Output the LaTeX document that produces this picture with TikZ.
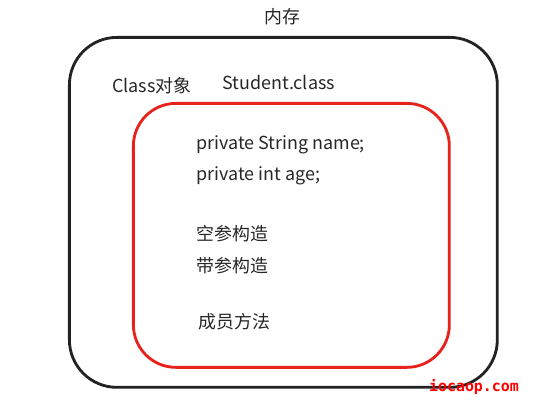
\documentclass[tikz,border=0pt]{standalone}
\usepackage{fontspec}
\setmainfont{Noto Sans CJK SC}
\newfontfamily\markfont{DejaVu Sans Mono}
\definecolor{memline}{HTML}{222222}
\definecolor{clsred}{HTML}{E8211A}

\begin{document}
\begin{tikzpicture}[x=0.02cm, y=-0.02cm, every node/.style={font=\fontsize{10.2}{12}\selectfont, inner sep=0pt, text=black!85}]
                \useasboundingbox (0,0) rectangle (549,402);

                % Memory box
                \node[draw=memline, line width=1.6pt, rounded corners=0.95cm, minimum width=8.56cm, minimum height=7cm, anchor=north west] (mem) at (68,36) {};
                \node (memlabel) at (282,17) {内存};

                % Class object
                \node[anchor=west] (clsobj) at (112,86) {Class对象};
                \node[anchor=west] (clsname) at (222,82) {Student.class};
                \node[draw=clsred, line width=1.6pt, rounded corners=0.85cm, minimum width=6.32cm, minimum height=5.28cm, anchor=north west] (cls) at (132,102) {};

                % Members
                \node[anchor=west] (field1) at (196,145) {private String name;};
                \node[anchor=west] (field2) at (196,176) {private int age;};
                \node[anchor=west] (ctor1) at (196,234) {空参构造};
                \node[anchor=west] (ctor2) at (196,266) {带参构造};
                \node[anchor=west] (method) at (198,322) {成员方法};

                % Watermark
                \node[text=red, font=\markfont\bfseries\fontsize{8.5}{10}\selectfont] (mark) at (474,387) {iocaop.com};
            \end{tikzpicture}
\end{document}
